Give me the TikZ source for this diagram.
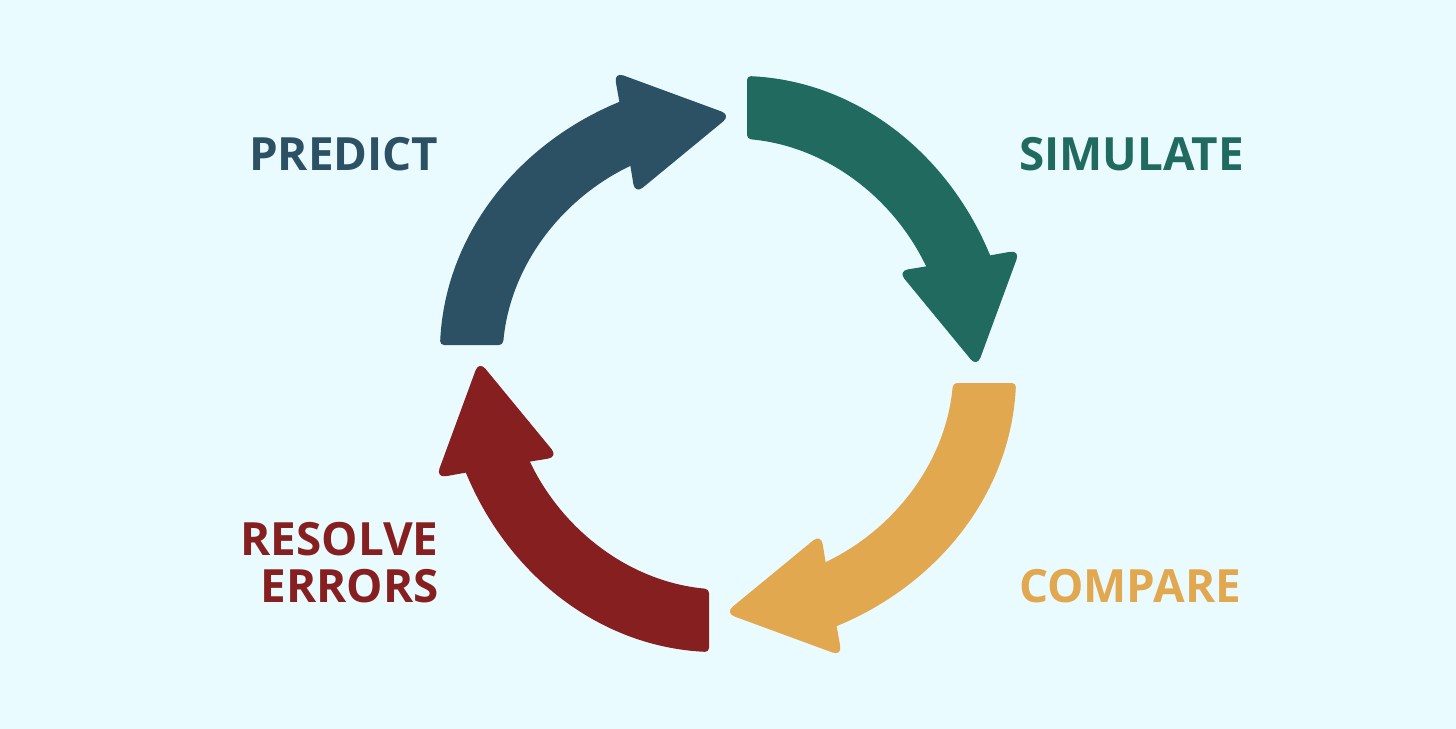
\documentclass[tikz,border=0pt]{standalone}
\usepackage{fontspec}
\setmainfont{Open Sans}
\definecolor{bgc}{HTML}{EAFBFF}
\definecolor{simc}{HTML}{216A60}
\definecolor{prec}{HTML}{2C5064}
\definecolor{cmpc}{HTML}{E1A84F}
\definecolor{resc}{HTML}{862020}
\newcommand{\cyclearrow}[2]{%
  \begin{scope}[shift={(728,364)},rotate=#2]
    \fill[#1,rounded corners=2pt]
      (19,-256) -- (19,-288)
      .. controls (128,-283) and (218,-212) .. (262,-109)
      -- (272,-85) -- (205,-84) -- (198,-98)
      .. controls (163,-168) and (97,-218) .. (19,-225) -- cycle;
    \fill[#1,rounded corners=5pt]
      (231,-103) -- (292,-114) -- (249,3) -- (170,-93) -- cycle;
  \end{scope}}
\tikzset{lab/.style={font=\bfseries\fontsize{22.9}{26}\selectfont,inner sep=0pt,outer sep=0pt}}
\begin{document}
\begin{tikzpicture}[x=0.5pt,y=-0.5pt]
  \useasboundingbox (0,0) rectangle (1456,728);
  \fill[bgc] (-6,-6) rectangle (1462,734);
  \cyclearrow{simc}{0}
  \cyclearrow{prec}{90}
  \cyclearrow{resc}{180}
  \cyclearrow{cmpc}{-90}
  \node[lab,text=prec,anchor=base east] (predict) at (438.5,170.5) {PREDICT};
  \node[lab,text=simc,anchor=base west] (simulate) at (1019,170.5) {SIMULATE};
  \node[lab,text=cmpc,anchor=base west] (compare) at (1019,602.5) {COMPARE};
  \node[lab,text=resc,anchor=base east] (resolve) at (438.5,555.5) {RESOLVE};
  \node[lab,text=resc,anchor=base east] (errors) at (438.5,602.5) {ERRORS};
\end{tikzpicture}
\end{document}
